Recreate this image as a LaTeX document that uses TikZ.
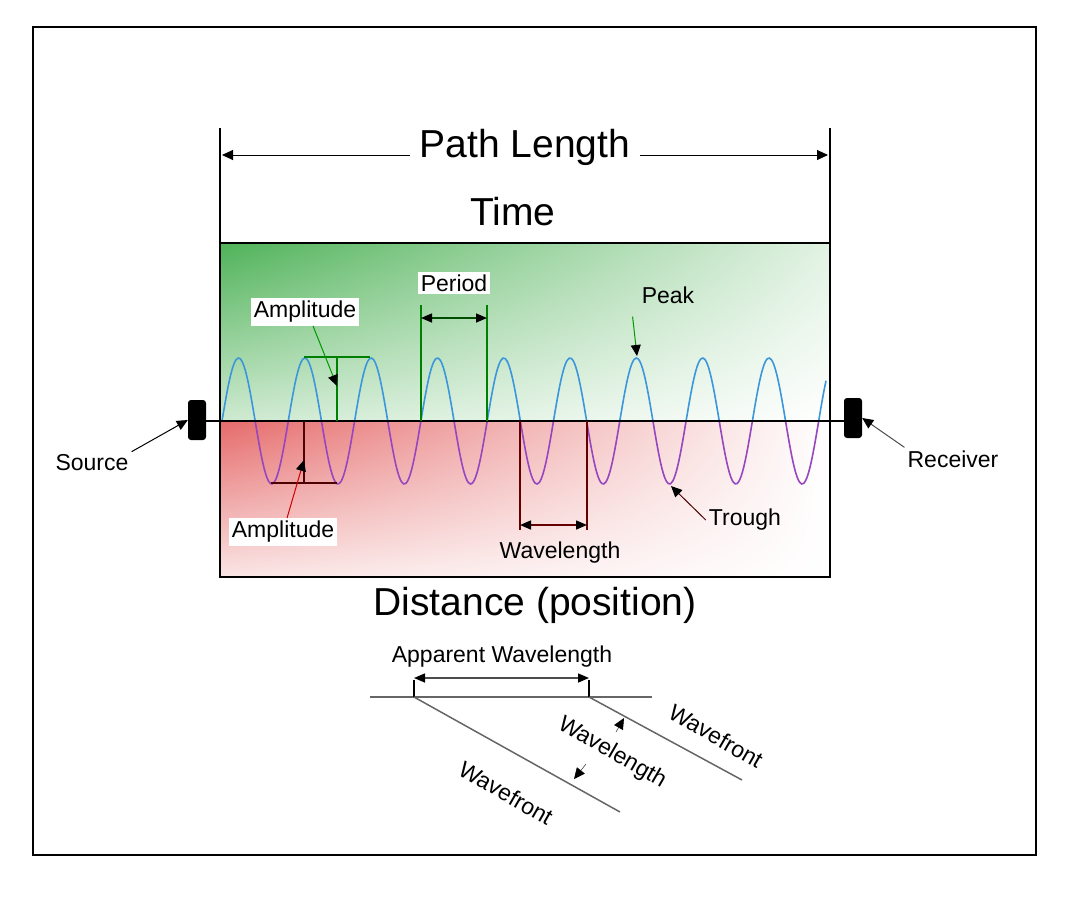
\documentclass[tikz,border=0pt]{standalone}
\usepackage{fontspec}
\setmainfont{Liberation Sans}
\usetikzlibrary{arrows.meta,shadings}
\definecolor{wavefill}{RGB}{60,170,70}
\definecolor{troughfill}{RGB}{225,80,80}
\definecolor{bluewave}{RGB}{60,150,220}
\definecolor{purplewave}{RGB}{150,70,190}
\tikzset{
  lbl/.style={font=\fontsize{23}{26}\selectfont, inner sep=3pt},
  lbl-box/.style={lbl, fill=white},
  big/.style={font=\fontsize{39}{42}\selectfont, inner sep=2pt},
  thin-line/.style={line width=1.2pt},
  pointer/.style={line width=1pt, -{Triangle[length=11pt,width=10pt,color=black,fill=black]}},
  dim/.style={line width=1.5pt, {Triangle[length=11pt,width=9pt,color=black,fill=black]}-{Triangle[length=11pt,width=9pt,color=black,fill=black]}},
  block/.style={fill=black, rounded corners=3pt}
}
\newcommand{\wavepath}{
  plot[domain=222:826, samples=300, smooth] (\x, {421-63*sin((\x-222)*5.43+62*(1-min(1,(\x-222)/20))*0)})
}
\begin{document}
\begin{tikzpicture}[x=1pt, y=-1pt]
  \useasboundingbox (0,0) rectangle (1073,897);
  \draw[thin-line] (33,27) rectangle (1036,855);

  % shaded halves
  \shade[upper left=wavefill!90, upper right=wavefill!15, lower left=wavefill!25, lower right=white]
    (220,243) rectangle (830,421);
  \shade[upper left=troughfill!85, upper right=white, lower left=troughfill!15, lower right=white]
    (220,421) rectangle (830,577);
  \draw[line width=2pt] (220,243) rectangle (830,577);

  % wave
  \begin{scope}
    \clip (220,280) rectangle (830,421);
    \draw[bluewave, line width=1.6pt] \wavepath;
  \end{scope}
  \begin{scope}
    \clip (220,421) rectangle (830,500);
    \draw[purplewave, line width=1.6pt] \wavepath;
  \end{scope}

  % axis and blocks
  \draw[line width=1.8pt] (190,421) -- (852,421);
  \node[block, minimum width=18pt, minimum height=40pt, inner sep=0pt] (src) at (197,420) {};
  \node[block, minimum width=18pt, minimum height=40pt, inner sep=0pt] (rcv) at (853,418) {};

  % path length and time
  \draw[thin-line] (220,128) -- (220,243);
  \draw[thin-line] (830,128) -- (830,243);
  \node[big, inner xsep=10pt] (path) at (525,147) {Path Length};
  \coordinate (pl-l) at (222,155);
  \coordinate (pl-r) at (828,155);
  \draw[pointer] (path.west |- pl-l) -- (pl-l);
  \draw[pointer] (path.east |- pl-r) -- (pl-r);
  \node[big] (time) at (513,212) {Time};
  \node[big] (dist) at (535,605) {Distance (position)};

  % amplitude above
  \draw[green!50!black, line width=1.5pt] (304,357) -- (370,357);
  \draw[green!50!black, line width=1.5pt] (337,357) -- (337,421);
  \node[lbl-box] (ampa) at (305,312) {Amplitude};
  \coordinate (ampa-tip) at (337,386);
  \draw[pointer, green!60!black] ([xshift=8pt]ampa.south) -- (ampa-tip);

  % amplitude below
  \draw[black!70!red, line width=1.5pt] (271,483) -- (337,483);
  \draw[black!70!red, line width=1.5pt] (304,421) -- (304,483);
  \node[lbl-box] (ampb) at (283,532) {Amplitude};
  \coordinate (ampb-tip) at (304,460);
  \draw[pointer, red!80!black] ([xshift=4pt]ampb.north) -- (ampb-tip);

  % period
  \draw[green!50!black, line width=1.5pt] (421,305) -- (421,421);
  \draw[green!50!black, line width=1.5pt] (487,305) -- (487,421);
  \draw[dim, green!30!black] (421,318) -- (487,318);
  \node[lbl-box] (period) at (454,283) {Period};

  % wavelength
  \draw[black!60!red, line width=1.5pt] (520,421) -- (520,530);
  \draw[black!60!red, line width=1.5pt] (587,421) -- (587,530);
  \draw[dim, black!60!red] (520,525) -- (587,525);
  \node[lbl] (wl) at (560,553) {Wavelength};

  % peak, trough
  \node[lbl] (peak) at (668,295) {Peak};
  \coordinate (peak-tip) at (637,356);
  \draw[pointer, green!60!black] ([shift={(-6pt,-10pt)}]peak.south west) -- (peak-tip);
  \node[lbl] (trough) at (745,520) {Trough};
  \coordinate (trough-tip) at (671,486);
  \draw[pointer, black!70!red] (trough.west) -- (trough-tip);

  % source, receiver
  \node[lbl] (srclbl) at (92,463) {Source};
  \draw[pointer] (srclbl.north east) -- (src.west);
  \node[lbl] (rcvlbl) at (953,459) {Receiver};
  \draw[pointer, black!70] (rcvlbl.north west) -- (rcv.east);

  % apparent wavelength sketch
  \draw[line width=1.5pt, black!60] (370,697) -- (652,697);
  \draw[line width=1.5pt] (414,680) -- (414,697);
  \draw[line width=1.5pt] (589,680) -- (589,697);
  \draw[dim, black!70] (414,678) -- (589,678);
  \node[lbl] (app) at (502,657) {Apparent Wavelength};
  \coordinate (wf1-a) at (414,697);
  \coordinate (wf1-b) at (620,812);
  \coordinate (wf2-a) at (589,697);
  \coordinate (wf2-b) at (742,780);
  \draw[line width=1.5pt, black!60] (wf1-a) -- (wf1-b);
  \draw[line width=1.5pt, black!60] (wf2-a) -- (wf2-b);
  \coordinate (wl-t1) at (574,779);
  \coordinate (wl-t2) at (624,718);
  \draw[pointer, black!70, line width=0.6pt] (586,764) -- (wl-t1);
  \draw[pointer, black!70, line width=0.6pt] (616,732) -- (wl-t2);
  \node[lbl, rotate=-30] (wf1) at (506,793) {Wavefront};
  \node[lbl, rotate=-30] (wavl) at (612,753) {Wavelength};
  \node[lbl, rotate=-30] (wf2) at (716,736) {Wavefront};
\end{tikzpicture}
\end{document}
